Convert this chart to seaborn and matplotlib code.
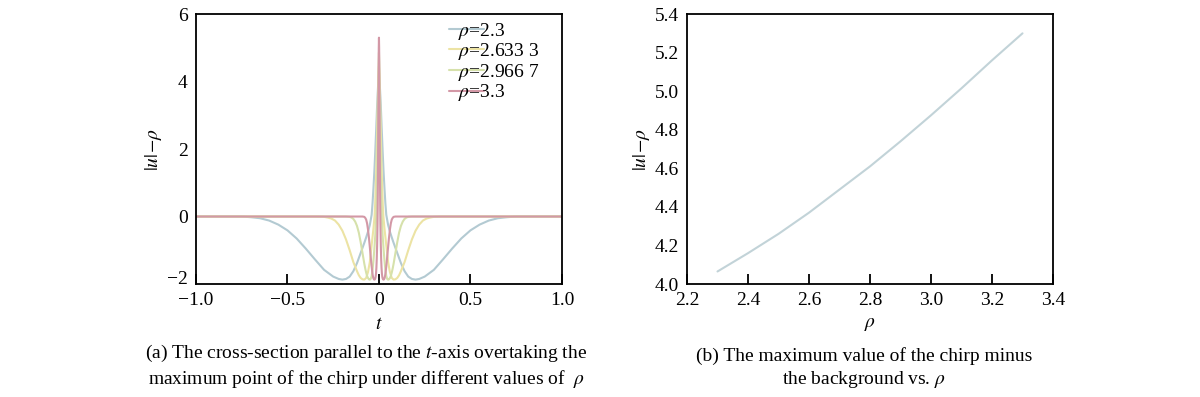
import matplotlib
matplotlib.use('Agg')
import matplotlib.pyplot as plt
import matplotlib.transforms as mtransforms
import pandas as pd
import seaborn as sns
import numpy as np

# Cross-section curves (t >= 0 half; curves are symmetric in t)
labels = [r'$\rho$=2.3', r'$\rho$=2.633 3', r'$\rho$=2.966 7', r'$\rho$=3.3']

t_23 = [0, .005, .01, .015, .02, .025, .03, .035, .04, .05, .06, .07, .08, .10, .12, .14, .16,
        .18, .20, .22, .25, .30, .35, .40, .45, .50, .55, .60, .65, .70, .75, .80, 1.0]
u_23 = [4.06, 3.85, 3.30, 2.60, 1.95, 1.35, 0.85, 0.40, 0.05, -0.25, -0.45, -0.62, -0.78, -1.08,
        -1.38, -1.62, -1.78, -1.85, -1.87, -1.85, -1.78, -1.58, -1.27, -0.95, -0.65, -0.41, -0.24,
        -0.12, -0.05, -0.02, 0.0, 0.0, 0.0]

t_263 = [0, .003, .006, .009, .012, .015, .018, .021, .024, .03, .035, .04, .045, .05, .06, .07,
         .08, .09, .10, .11, .12, .14, .16, .18, .20, .22, .24, .26, .28, .30, .34, .40, 1.0]
u_263 = [4.45, 4.15, 3.50, 2.75, 2.00, 1.35, 0.80, 0.35, 0.02, -0.35, -0.60, -0.85, -1.10, -1.35,
         -1.65, -1.82, -1.87, -1.86, -1.82, -1.74, -1.62, -1.35, -1.00, -0.68, -0.42, -0.24, -0.12,
         -0.06, -0.03, -0.01, 0.0, 0.0, 0.0]

t_297 = [0, .002, .004, .006, .008, .010, .012, .014, .016, .02, .025, .03, .035, .04, .045, .05,
         .055, .06, .065, .07, .075, .08, .09, .10, .11, .12, .13, .14, .15, .16, .18, .22, 1.0]
u_297 = [4.86, 4.50, 3.75, 2.85, 2.00, 1.25, 0.65, 0.20, -0.10, -0.55, -0.95, -1.30, -1.58, -1.76,
         -1.85, -1.87, -1.86, -1.82, -1.76, -1.66, -1.54, -1.40, -1.08, -0.76, -0.48, -0.28, -0.15,
         -0.07, -0.03, -0.01, 0.0, 0.0, 0.0]

t_33 = [0, .001, .002, .003, .004, .005, .006, .007, .008, .010, .012, .014, .016, .018, .020,
        .022, .025, .028, .031, .034, .037, .040, .045, .05, .055, .06, .065, .07, .075, .08, .09,
        .10, 1.0]
u_33 = [5.30, 5.00, 4.30, 3.40, 2.45, 1.55, 0.80, 0.20, -0.25, -0.85, -1.25, -1.52, -1.68, -1.78,
        -1.83, -1.86, -1.87, -1.86, -1.82, -1.74, -1.62, -1.48, -1.20, -0.90, -0.62, -0.38, -0.20,
        -0.09, -0.04, -0.01, 0.0, 0.0, 0.0]

# Maximum of the chirp minus background vs rho
rho = [2.3, 2.4, 2.5, 2.6, 2.7, 2.8, 2.9, 3.0, 3.1, 3.2, 3.3]
peak = [4.065, 4.16, 4.26, 4.37, 4.49, 4.61, 4.74, 4.875, 5.015, 5.16, 5.30]

colors = ['#b3cad2', '#ece3a4', '#d6e1ab', '#d398a6']

sns.set_style('ticks')
plt.rcParams['font.family'] = ['Liberation Serif', 'DejaVu Serif']
plt.rcParams['mathtext.fontset'] = 'stix'
plt.rcParams['font.size'] = 14
for key in ['text.color', 'axes.labelcolor', 'xtick.color', 'ytick.color']:
    plt.rcParams[key] = 'black'

frames = []
for lab, t, u in zip(labels, [t_23, t_263, t_297, t_33], [u_23, u_263, u_297, u_33]):
    t = np.asarray(t)
    u = np.asarray(u)
    # mirror the half curve to both sides of t = 0
    frames.append(pd.DataFrame({'t': np.r_[-t[::-1], t[1:]],
                                'val': np.r_[u[::-1], u[1:]],
                                'rho': lab}))
df = pd.concat(frames, ignore_index=True)
df_peak = pd.DataFrame({'rho': rho, 'peak': peak})

fig = plt.figure(figsize=(12, 3.97), dpi=100)
ax1 = fig.add_axes([0.1633, 0.2846, 0.305, 0.68])
ax2 = fig.add_axes([0.5725, 0.2846, 0.305, 0.68])

sns.lineplot(data=df, x='t', y='val', hue='rho', palette=colors, ax=ax1,
             linewidth=1.5, sort=False, estimator=None)
ax1.set_xlim(-1, 1)
ax1.set_ylim(-2, 6)
ax1.set_xticks([-1.0, -0.5, 0, 0.5, 1.0])
ax1.set_xticklabels(['\u22121.0', '\u22120.5', '0', '0.5', '1.0'])
ax1.set_yticks([-2, 0, 2, 4, 6])
ax1.set_yticklabels(['\u22122', '0', '2', '4', '6'])
ax1.set_xlabel(r'$t$', labelpad=5)
ax1.set_ylabel(r'$|u|\!-\!\rho$', labelpad=2)
leg = ax1.legend(loc='upper left', bbox_to_anchor=(0.68, 0.99), frameon=False,
                 handlelength=1.8, handletextpad=-1.3, labelspacing=-0.02,
                 fontsize=14, borderaxespad=0.0, borderpad=0.2)
for h in leg.get_lines():
    h.set_linewidth(1.5)

sns.lineplot(data=df_peak, x='rho', y='peak', color='#c2d3d8', linewidth=1.5, ax=ax2)
ax2.set_xlim(2.2, 3.4)
ax2.set_ylim(4.0, 5.4)
ax2.set_xticks([2.2, 2.4, 2.6, 2.8, 3.0, 3.2, 3.4])
ax2.set_xticklabels(['2.2', '2.4', '2.6', '2.8', '3.0', '3.2', '3.4'])
ax2.set_yticks([4.0, 4.2, 4.4, 4.6, 4.8, 5.0, 5.2, 5.4])
ax2.set_yticklabels(['4.0', '4.2', '4.4', '4.6', '4.8', '5.0', '5.2', '5.4'])
ax2.set_xlabel(r'$\rho$', labelpad=5)
ax2.set_ylabel(r'$|u|\!-\!\rho$', labelpad=2)

for ax in (ax1, ax2):
    for s in ax.spines.values():
        s.set_visible(True)
        s.set_linewidth(1.3)
        s.set_color('black')
    ax.tick_params(axis='x', direction='in', length=7, width=1.3, pad=6, labelsize=14)
    ax.tick_params(axis='y', length=0, pad=6, labelsize=14)

# lift the lowest y tick label a little, as in the reference
lift = mtransforms.ScaledTranslation(0, 5 / 72, fig.dpi_scale_trans)
lbl = ax1.get_yticklabels()[0]
lbl.set_transform(lbl.get_transform() + lift)

fig.text(0.305, 0.018, '(a) The cross-section parallel to the $t$-axis overtaking the\n'
         'maximum point of the chirp under different values of  $\\rho$',
         ha='center', va='bottom', fontsize=14, linespacing=1.25)
fig.text(0.72, 0.018, '(b) The maximum value of the chirp minus\nthe background vs. $\\rho$',
         ha='center', va='bottom', fontsize=14, linespacing=1.25)

fig.savefig('out.png', dpi=100)
